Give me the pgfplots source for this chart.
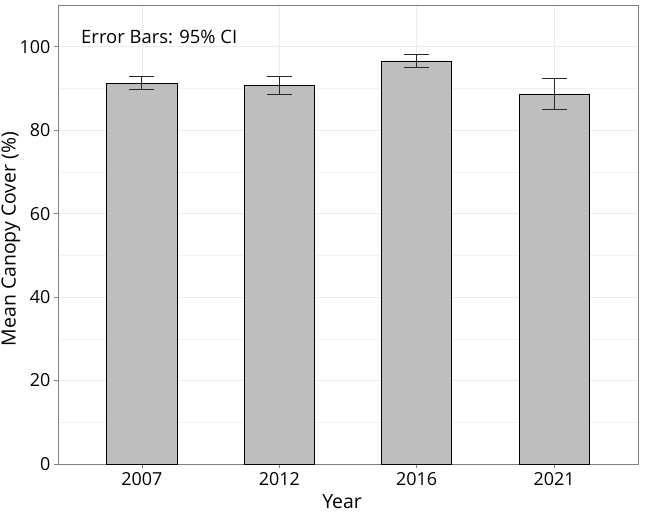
\documentclass[border=0pt]{standalone}
\usepackage{pgfplots}
\pgfplotsset{compat=1.18}
\usetikzlibrary{calc}
\usepackage{fontspec}
\setmainfont{Open Sans}
\definecolor{barfill}{HTML}{BEBEBE}
\definecolor{gridc}{HTML}{EBEBEB}
\definecolor{framec}{HTML}{7F7F7F}
\begin{document}
\begin{tikzpicture}
\begin{axis}[
  scale only axis,
  width=580bp, height=459bp,
  xmin=0.39, xmax=4.61,
  ymin=0, ymax=110,
  xtick={1,2,3,4},
  xticklabels={2007,2012,2016,2021},
  ytick={0,20,40,60,80,100},
  minor ytick={10,30,50,70,90},
  grid=both,
  major grid style={gridc, line width=0.6pt},
  minor grid style={gridc!70!white, line width=0.4pt},
  axis line style={framec, line width=0.8pt},
  tick style={framec, line width=0.6pt},
  tick align=outside,
  major tick length=4bp,
  minor tick length=0pt,
  xtick pos=bottom, ytick pos=left,
  /pgf/number format/assume math mode=true,
  ticklabel style={font=\fontsize{18}{21}\selectfont, black},
  xticklabel style={yshift=-1bp},
  xlabel={Year},
  ylabel={Mean Canopy Cover (\%)},
  label style={font=\fontsize{19.5}{23}\selectfont},
  xlabel style={at={(axis description cs:0.4897,-0.083)}, anchor=center},
  ylabel style={at={(axis description cs:-0.081,0.49)}, anchor=center, rotate=0},
]
\addplot[ybar, bar width=0.51, fill=barfill, draw=black, line width=0.6pt,
  error bars/.cd, y dir=both, y explicit,
  error bar style={black!85, line width=0.8pt},
  error mark options={rotate=90, black!85, line width=0.8pt, mark size=12.5bp}]
  table[x=x, y=y, y error=e, row sep=crcr]{
  x y e \\
  1 91.3 1.6 \\
  2 90.7 2.1 \\
  3 96.6 1.6 \\
  4 88.7 3.7 \\
};
\node[anchor=west, font=\fontsize{18.5}{22}\selectfont] at (rel axis cs:0.034,0.93) {Error Bars: 95\% CI};
\end{axis}
\pgfresetboundingbox
\path[use as bounding box] ($(current axis.south west)+(-58bp,-49bp)$) rectangle ($(current axis.north east)+(12bp,5bp)$);
\end{tikzpicture}
\end{document}
